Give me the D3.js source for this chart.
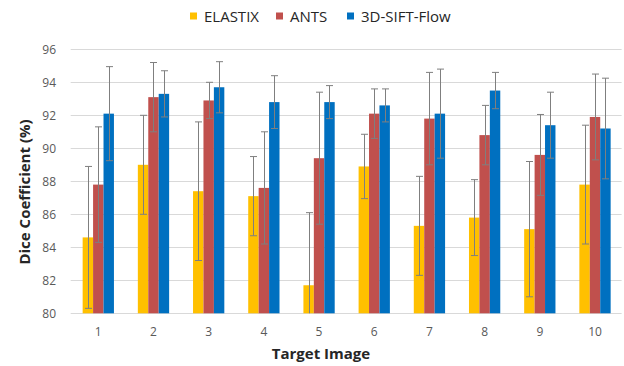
<!DOCTYPE html>
<html>
<head>
<meta charset="utf-8">
<script src="https://cdn.jsdelivr.net/npm/d3@7"></script>
<style>
  html, body { margin: 0; padding: 0; background: #fff; }
  svg { display: block; font-family: "Open Sans", sans-serif; }
</style>
</head>
<body>
<svg id="chart" width="624" height="366"></svg>
<script>
// Dice coefficient per target image
const categories = ['1', '2', '3', '4', '5', '6', '7', '8', '9', '10'];
const seriesNames = ['ELASTIX', 'ANTS', '3D-SIFT-Flow'];
const seriesColors = ['#FFC000', '#C0504D', '#0070C0'];

const elastix = [84.6, 89.0, 87.4, 87.1, 81.7, 88.9, 85.3, 85.8, 85.1, 87.8];
const ants = [87.8, 93.1, 92.9, 87.6, 89.4, 92.1, 91.8, 90.8, 89.6, 91.9];
const siftFlow = [92.1, 93.3, 93.7, 92.8, 92.8, 92.6, 92.1, 93.5, 91.4, 91.2];

const elastixErr = [4.3, 3.0, 4.2, 2.4, 4.4, 1.95, 3.0, 2.3, 4.1, 3.6];
const antsErr = [3.5, 2.1, 1.1, 3.4, 4.0, 1.5, 2.8, 1.8, 2.45, 2.6];
const siftFlowErr = [2.85, 1.4, 1.55, 1.6, 1.0, 1.0, 2.7, 1.1, 2.0, 3.05];

const yTicks = [80, 82, 84, 86, 88, 90, 92, 94, 96];

const values = [elastix, ants, siftFlow];
const errors = [elastixErr, antsErr, siftFlowErr];

const svg = d3.select('#chart');

const plot = { left: 70.7, right: 622.6, top: 49.3, bottom: 313.3 };

const x = d3.scaleBand()
    .domain(categories)
    .range([plot.left, plot.right])
    .paddingInner(0.433)
    .paddingOuter(0.2165);

const xSub = d3.scaleBand()
    .domain(seriesNames)
    .range([0, x.bandwidth()]);

const y = d3.scaleLinear()
    .domain([80, 96])
    .range([plot.bottom, plot.top]);

// Gridlines
svg.append('g')
    .selectAll('line')
    .data(yTicks)
    .enter()
    .append('line')
    .attr('x1', plot.left)
    .attr('x2', plot.right - 1)
    .attr('y1', d => Math.round(y(d)) + 0.5)
    .attr('y2', d => Math.round(y(d)) + 0.5)
    .attr('stroke', '#d9d9d9')
    .attr('stroke-width', 1);

// Y tick labels
svg.append('g')
    .selectAll('text')
    .data(yTicks)
    .enter()
    .append('text')
    .attr('x', 56)
    .attr('y', d => y(d))
    .attr('dy', '0.35em')
    .attr('text-anchor', 'end')
    .style('font-size', '12px')
    .style('fill', '#595959')
    .text(d => d);

// Clip so error bars stop at the axis
svg.append('clipPath')
    .attr('id', 'plot-clip')
    .append('rect')
    .attr('x', plot.left)
    .attr('y', 0)
    .attr('width', plot.right - plot.left)
    .attr('height', plot.bottom);

// Bars
const groups = svg.append('g')
    .selectAll('g')
    .data(categories)
    .enter()
    .append('g')
    .attr('transform', d => `translate(${x(d)},0)`);

seriesNames.forEach((name, s) => {
    groups.append('rect')
        .attr('x', xSub(name))
        .attr('y', (d, i) => y(values[s][i]))
        .attr('width', xSub.bandwidth())
        .attr('height', (d, i) => y(80) - y(values[s][i]))
        .attr('fill', seriesColors[s]);
});

// Error bars
const errG = svg.append('g').attr('clip-path', 'url(#plot-clip)');
seriesNames.forEach((name, s) => {
    categories.forEach((c, i) => {
        const cx = Math.round(x(c) + xSub(name) + xSub.bandwidth() / 2) + 0.5;
        const top = y(values[s][i] + errors[s][i]);
        const bot = y(values[s][i] - errors[s][i]);
        const g = errG.append('g')
            .attr('stroke', '#7f7f7f')
            .attr('stroke-width', 1);
        g.append('line').attr('x1', cx).attr('x2', cx).attr('y1', top).attr('y2', bot);
        g.append('line').attr('x1', cx - 3.5).attr('x2', cx + 3.5).attr('y1', top).attr('y2', top);
        g.append('line').attr('x1', cx - 3.5).attr('x2', cx + 3.5).attr('y1', bot).attr('y2', bot);
    });
});

// X tick labels
svg.append('g')
    .selectAll('text')
    .data(categories)
    .enter()
    .append('text')
    .attr('x', d => x(d) + x.bandwidth() / 2)
    .attr('y', 335.5)
    .attr('text-anchor', 'middle')
    .style('font-size', '12px')
    .style('fill', '#595959')
    .text(d => d);

// Axis titles
svg.append('text')
    .attr('x', 321)
    .attr('y', 358.5)
    .attr('text-anchor', 'middle')
    .style('font-size', '15px')
    .style('font-weight', 'bold')
    .style('fill', '#262626')
    .text('Target Image');

svg.append('text')
    .attr('transform', 'translate(25,192) rotate(-90)')
    .attr('text-anchor', 'middle')
    .attr('dy', '0.35em')
    .style('font-size', '15px')
    .style('font-weight', 'bold')
    .style('fill', '#262626')
    .text('Dice Coefficient (%)');

// Legend
const legendX = [190, 276, 347];
const legend = svg.append('g')
    .selectAll('g')
    .data(seriesNames)
    .enter()
    .append('g')
    .attr('transform', (d, i) => `translate(${legendX[i]},0)`);

legend.append('rect')
    .attr('x', 0)
    .attr('y', 12.5)
    .attr('width', 7)
    .attr('height', 7)
    .attr('fill', (d, i) => seriesColors[i]);

legend.append('text')
    .attr('x', 14)
    .attr('y', 21.7)
    .style('font-size', '15px')
    .style('fill', '#262626')
    .text(d => d);
</script>
</body>
</html>
